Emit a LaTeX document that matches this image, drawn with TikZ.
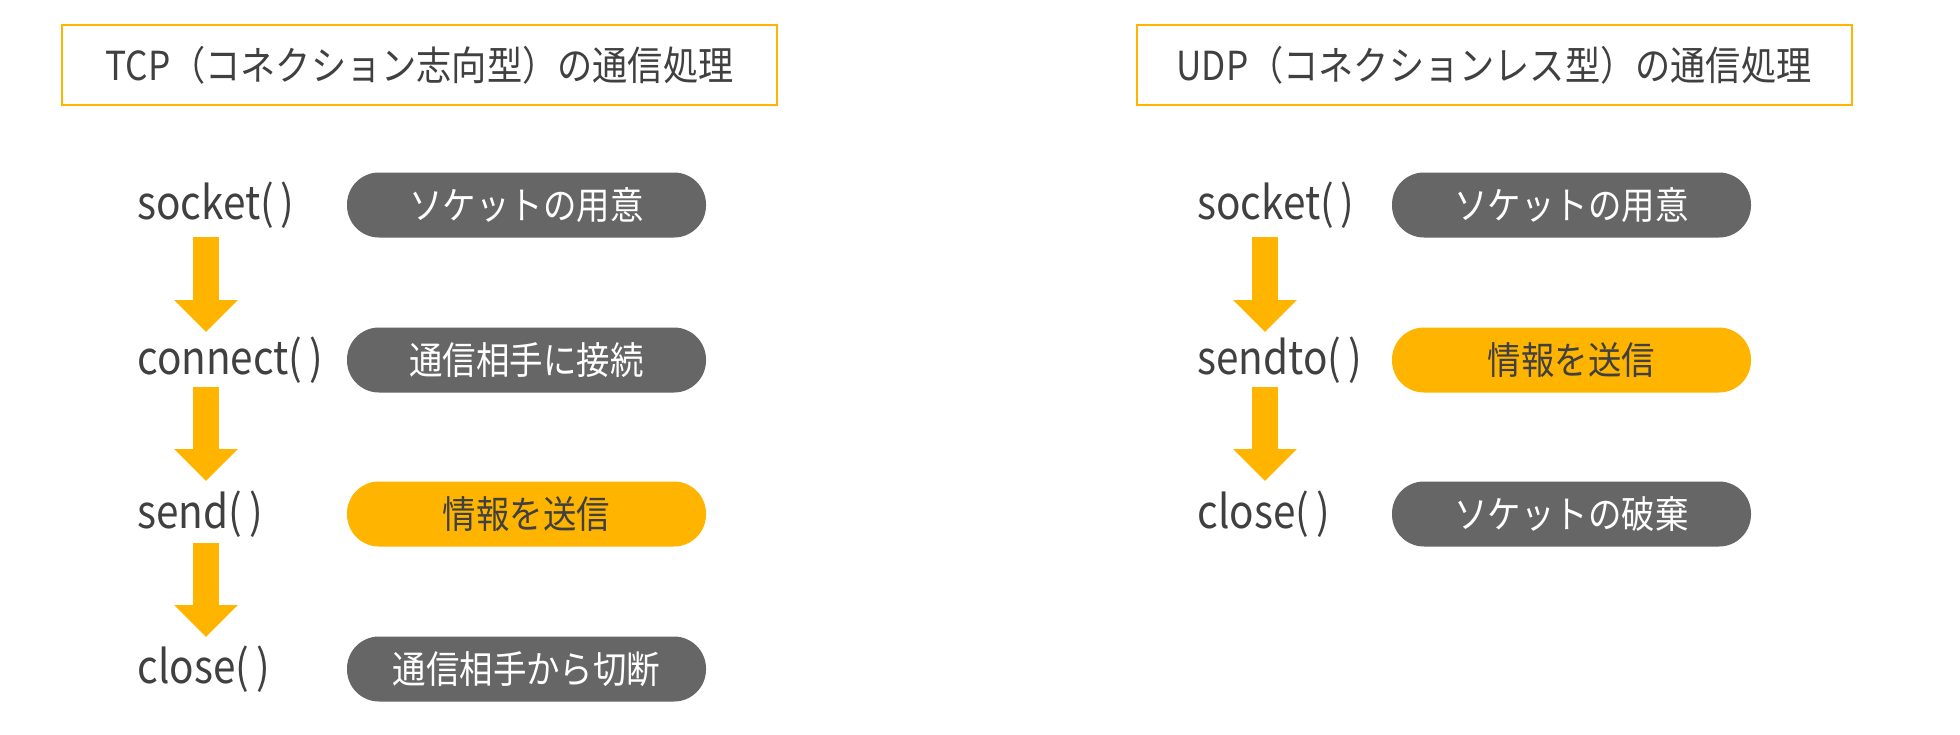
\documentclass[tikz,border=0pt]{standalone}
\usepackage{fontspec}
\setmainfont[FakeStretch=0.88]{Noto Sans CJK JP}
\usetikzlibrary{arrows.meta,calc}
\definecolor{boxorange}{HTML}{FFB400}
\definecolor{pillgray}{HTML}{666666}
\definecolor{textgray}{HTML}{404040}
\newcommand{\callpar}{(\hspace{0.15em})}

\begin{document}
\begin{tikzpicture}[x=0.5pt,y=-0.5pt,
    titlestyle/.style={draw=boxorange, line width=1pt, minimum width=357.5pt, minimum height=40pt, text=textgray, font=\fontsize{20}{24}\selectfont},
    callstyle/.style={anchor=west, inner sep=0pt, text=textgray, font=\fontsize{23}{27}\selectfont},
    pillstyle/.style={rounded corners=16pt, fill=pillgray, text=white, minimum width=179.5pt, minimum height=32.5pt, font=\fontsize{19}{23}\selectfont},
    sendstyle/.style={pillstyle, fill=boxorange, text=textgray},
    arrowstyle/.style={draw=boxorange, line width=13pt, -{Triangle[width=31pt,length=16pt]}}]
                \useasboundingbox (0,0) rectangle (1960,734);
                % Titles
                \node[titlestyle] (tcptitle) at (419.5,65) {TCP（コネクション志向型）の通信処理};
                \node[titlestyle] (udptitle) at (1494,65) {UDP（コネクションレス型）の通信処理};
                %%%
                % TCP side
                \node[callstyle] (tcpsock) at (137,205) {socket\callpar};
                \node[callstyle] (tcpconn) at (137,360) {connect\callpar};
                \node[callstyle] (tcpsend) at (137,514) {send\callpar};
                \node[callstyle] (tcpclose) at (137,669) {close\callpar};

                \node[pillstyle] (tcpsockpill) at (526.5,205) {ソケットの用意};
                \node[pillstyle] (tcpconnpill) at (526.5,360) {通信相手に接続};
                \node[sendstyle] (tcpsendpill) at (526.5,514) {情報を送信};
                \node[pillstyle] (tcpclosepill) at (526.5,669) {通信相手から切断};

                \draw[arrowstyle] ($(tcpsock.west)+(69,32)$) -- ($(tcpconn.west)+(69,-28)$);
                \draw[arrowstyle] ($(tcpconn.west)+(69,27)$) -- ($(tcpsend.west)+(69,-33)$);
                \draw[arrowstyle] ($(tcpsend.west)+(69,29)$) -- ($(tcpclose.west)+(69,-32)$);
                %%%
                % UDP side
                \node[callstyle] (udpsock) at (1197,205) {socket\callpar};
                \node[callstyle] (udpsendto) at (1197,360) {sendto\callpar};
                \node[callstyle] (udpclose) at (1197,514) {close\callpar};

                \node[pillstyle] (udpsockpill) at (1571.5,205) {ソケットの用意};
                \node[sendstyle] (udpsendpill) at (1571.5,360) {情報を送信};
                \node[pillstyle] (udpclosepill) at (1571.5,514) {ソケットの破棄};

                \draw[arrowstyle] ($(udpsock.west)+(68,32)$) -- ($(udpsendto.west)+(68,-28)$);
                \draw[arrowstyle] ($(udpsendto.west)+(68,27)$) -- ($(udpclose.west)+(68,-33)$);
                %%%
\end{tikzpicture}
\end{document}
